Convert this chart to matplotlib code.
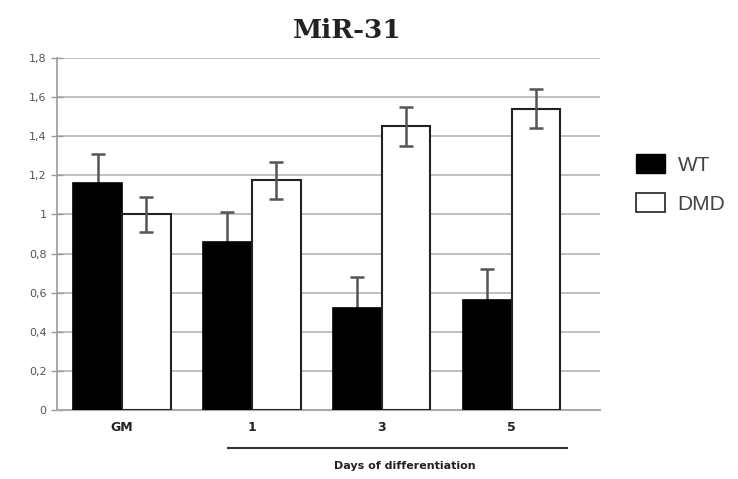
import matplotlib.pyplot as plt
import numpy as np

# data
groups = ["GM", "1", "3", "5"]
wt = [1.16, 0.86, 0.52, 0.56]
wt_err = [0.15, 0.15, 0.16, 0.16]
dmd = [1.00, 1.175, 1.45, 1.54]
dmd_err = [0.09, 0.095, 0.10, 0.10]
yticks = [0, 0.2, 0.4, 0.6, 0.8, 1.0, 1.2, 1.4, 1.6, 1.8]

fig = plt.figure(figsize=(7.38, 4.79), dpi=100)
ax = fig.add_axes([57/738, 1-410/479, (600-57)/738, (410-58)/479])

x = np.arange(len(groups))
w = 0.375
ax.bar(x - w/2, wt, w, color='black', edgecolor='black', linewidth=1.2, zorder=3)
ax.bar(x + w/2, dmd, w, color='white', edgecolor='#222222', linewidth=1.5, zorder=3)

# WT error bars sit behind the black bars, so only the upper arm shows
ax.errorbar(x - w/2, wt, yerr=wt_err, fmt='none',
            ecolor='#555555', elinewidth=1.8, capsize=5, capthick=1.8, zorder=2.5)
ax.errorbar(x + w/2, dmd, yerr=dmd_err, fmt='none',
            ecolor='#555555', elinewidth=1.8, capsize=5, capthick=1.8, zorder=4)

ax.set_xlim(-0.5, 3.68)
ax.set_ylim(0, 1.8)
ax.set_yticks(yticks)
ax.set_yticklabels([("%g" % v).replace('.', ',') for v in yticks],
                   fontsize=8, color='#555555')
ax.yaxis.grid(True, color='#bbbbbb', linewidth=1.3, zorder=0)
ax.set_axisbelow(True)
ax.tick_params(axis='y', direction='inout', length=8, color='#999999', width=1)
ax.tick_params(axis='x', length=0, pad=8)
ax.set_xticks(x)
ax.set_xticklabels(groups, fontsize=9, fontweight='bold', color='#222222')

for s in ['top', 'right']:
    ax.spines[s].set_visible(False)
ax.spines['left'].set_color('#999999')
ax.spines['bottom'].set_color('#aaaaaa')
ax.spines['left'].set_linewidth(1.2)
ax.spines['bottom'].set_linewidth(1.5)

# bracket line under the day labels
fig.add_artist(plt.Line2D([228/738, 567/738], [1-448/479, 1-448/479],
                          color='#333333', linewidth=1.5))
fig.text(405/738, 1-466/479, "Days of differentiation", ha='center', va='center',
         fontsize=8, fontweight='bold', color='#222222')

fig.text(347/738, 1-30/479, "MiR-31", ha='center', va='center',
         fontsize=19, fontweight='bold', family='DejaVu Serif', color='#222222')

handles = [plt.Rectangle((0, 0), 1, 1, facecolor='black', edgecolor='black'),
           plt.Rectangle((0, 0), 1, 1, facecolor='white', edgecolor='#333333', linewidth=1.3)]
fig.legend(handles, ["WT", "DMD"], loc='center left', bbox_to_anchor=(617/738, 1-184/479),
           frameon=False, handlelength=1.4, handleheight=1.0,
           handletextpad=0.6, labelspacing=0.9, labelcolor='#444444',
           prop={'family': 'Liberation Sans', 'size': 15})

fig.savefig("out.png", dpi=100)
